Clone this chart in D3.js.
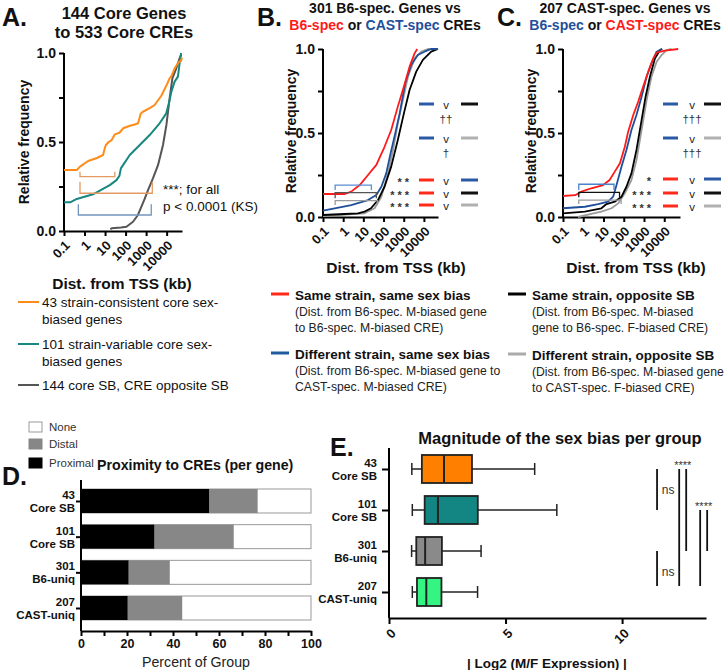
<!DOCTYPE html>
<html><head><meta charset="utf-8">
<script src="https://cdn.jsdelivr.net/npm/d3@7"></script>
<style>
body{margin:0;background:#fff}
text{font-family:"Liberation Sans",Arial,Helvetica,sans-serif}
</style>
</head><body>
<svg id="chart" width="727" height="670"></svg>
<script>
// ---------------- DATA ----------------
const xTicks = [0.1, 1, 10, 100, 1000, 10000];
const xTickLabels = ["0.1", "1", "10", "100", "1000", "10000"];
const yTicks = [0, 0.25, 0.5, 0.75, 1];
const yTickLabels = ["0.0", "", "0.5", "", "1.0"];

// Panel A cumulative distributions [distance kb, relative frequency]
const cdfA_consistent = [[0.1,0.343],[0.42,0.343],[0.6,0.362],[1.5,0.393],[4,0.41],[8,0.427],[10,0.47],[11,0.483],[15,0.5],[21,0.511],[30,0.543],[50,0.552],[76,0.577],[150,0.59],[300,0.6],[405,0.605],[550,0.66],[700,0.67],[1500,0.69],[2600,0.708],[5500,0.76],[10000,0.82],[14000,0.858],[17000,0.87],[24500,0.914],[30000,0.93],[40000,0.951],[50000,0.955],[56000,0.975]];
const cdfA_variable = [[0.1,0.161],[0.2,0.161],[0.42,0.18],[2.6,0.206],[17,0.258],[36,0.286],[50,0.31],[59,0.352],[160,0.427],[490,0.483],[1490,0.539],[4550,0.605],[9600,0.661],[13000,0.72],[17000,0.783],[24500,0.839],[35500,0.867],[46000,0.97],[51000,1.0]];
const cdfA_opposite = [[18,0.01],[21,0.015],[60,0.02],[110,0.024],[230,0.052],[400,0.09],[850,0.18],[1240,0.23],[2150,0.296],[3800,0.37],[6650,0.483],[9750,0.596],[14000,0.745],[19000,0.858],[29500,0.914],[42600,0.97],[51000,0.99]];

// Panel B
const cdfB_sameSame = [[0.1,0.137],[1.2,0.137],[2.5,0.151],[6.6,0.19],[17,0.25],[44,0.31],[112,0.418],[240,0.518],[510,0.657],[1020,0.776],[1950,0.895],[3460,0.974],[4650,1.0]];
const cdfB_diffSame = [[0.1,0.038],[0.38,0.052],[2.5,0.071],[17,0.101],[44,0.131],[78,0.18],[136,0.26],[223,0.379],[380,0.498],[630,0.617],[1180,0.796],[2340,0.905],[5000,0.964],[10700,0.984],[23000,1.0],[50000,1.0]];
const cdfB_sameOpp = [[0.1,0.012],[1.2,0.018],[5.4,0.022],[11.5,0.032],[24,0.052],[53,0.101],[112,0.18],[240,0.3],[510,0.458],[1020,0.617],[1950,0.756],[4170,0.865],[8900,0.935],[23000,0.984],[50000,1.0]];
const cdfB_diffOpp = [[0.1,0.006],[11.5,0.022],[36,0.052],[78,0.121],[166,0.26],[295,0.399],[510,0.558],[910,0.696],[1620,0.835],[3460,0.944],[7400,0.984],[15800,1.0],[50000,1.0]];

// Panel C
const cdfC_sameSame = [[0.1,0.125],[0.4,0.13],[0.81,0.151],[2.5,0.171],[9.6,0.19],[20,0.22],[36,0.27],[65,0.32],[113,0.418],[165,0.508],[295,0.607],[515,0.686],[910,0.776],[1620,0.865],[2880,0.944],[4200,0.978],[10800,0.99],[49000,1.0]];
const cdfC_diffSame = [[0.1,0.052],[1.2,0.061],[5.4,0.077],[17,0.091],[30,0.121],[44,0.19],[78,0.3],[136,0.399],[240,0.518],[425,0.607],[760,0.716],[1350,0.835],[2340,0.915],[4200,0.984],[7400,1.0]];
const cdfC_sameOpp = [[0.1,0.022],[1.2,0.032],[7.9,0.052],[14,0.077],[36,0.091],[78,0.121],[136,0.18],[240,0.26],[425,0.399],[760,0.577],[1200,0.716],[1960,0.835],[3460,0.944],[6200,0.994],[8000,1.0]];
const cdfC_diffOpp = [[0.55,0.0],[2.5,0.018],[7.9,0.032],[25,0.052],[53,0.081],[113,0.141],[240,0.22],[425,0.339],[760,0.518],[1350,0.696],[2340,0.835],[4200,0.924],[7400,0.964],[13000,0.994],[23000,1.0]];

// brackets [x0, x1, barLevel, stubLevel]
const bracketsA = [[0.6,30,0.305,0.333],[0.6,2000,0.212,0.277],[0.5,1780,0.09,0.15]];
const bracketsB = [[0.4,25,0.19,0.16],[0.4,44,0.145,0.111],[0.4,49,0.097,0.071]];
const bracketsC = [[0.6,33,0.195,0.16],[0.6,62,0.147,0.117],[0.6,74,0.101,0.077]];

// comparison keys
const comparisons = [["blue","black"],["blue","gray"],["red","blue"],["red","black"],["red","gray"]];
const daggersB = ["††","†"];
const daggersC = ["†††","†††"];
const starsB = ["**","***","***"];
const starsC = ["*","***","***"];

// Panel D
const groupsD = ["43|Core SB","101|Core SB","301|B6-uniq","207|CAST-uniq"];
const proximalPct = [55.7, 31.9, 20.7, 20.3];
const distalPct = [21.1, 34.5, 17.9, 23.7];
const categoriesD = ["None","Distal","Proximal"];
const pctTicks = [0,10,20,30,40,50,60,70,80,90,100];

// Panel E
const groupsE = ["43|Core SB","101|Core SB","301|B6-uniq","207|CAST-uniq"];
const boxMin = [0.98, 1.0, 0.97, 1.0];
const boxQ1 = [1.41, 1.53, 1.17, 1.2];
const boxMedian = [2.36, 2.1, 1.55, 1.6];
const boxQ3 = [3.56, 3.81, 2.27, 2.25];
const boxMax = [6.25, 7.2, 3.95, 3.8];
const magTicks = [0, 5, 10];
// [x value, from group, to group]
const sigLines = [[11.5,0,1],[11.5,2,3],[12.45,0,3],[12.75,0,2],[13.35,1,3],[13.65,1,2]];
const sigLabels = [["ns",11.7,0.5],["ns",11.7,2.5],["****",12.6,-0.18],["****",13.5,0.82]];

// ---------------- DRAW ----------------
const svg = d3.select("#chart");
const F = '"Liberation Sans",Arial,sans-serif';

function txt(g, x, y, s, o = {}) {
  const t = g.append("text").attr("x", x).attr("y", y).text(s)
    .attr("font-size", o.size || 12).attr("font-weight", o.bold ? "bold" : "normal")
    .attr("fill", o.fill || "#111").attr("text-anchor", o.anchor || "start")
    .attr("dominant-baseline", "central");
  if (o.rotate) t.attr("transform", `rotate(${o.rotate},${x},${y})`);
  if (o.ls) t.attr("letter-spacing", o.ls);
  return t;
}
function styleAxis(sel) {
  sel.select(".domain").attr("stroke", "#000").attr("stroke-width", 2);
  sel.selectAll(".tick line").attr("stroke", "#000").attr("stroke-width", 2);
  sel.selectAll(".tick text").attr("fill", "#111").attr("font-family", F).attr("font-weight", "bold");
}

function cdfAxes(x, y, fs) {
  const gx = svg.append("g").attr("transform", `translate(0,${y(0)})`)
    .call(d3.axisBottom(x).tickValues(xTicks).tickFormat((d, i) => xTickLabels[i]).tickSize(5).tickSizeOuter(0));
  styleAxis(gx);
  gx.selectAll(".tick text").attr("font-size", 13).attr("x", 0).attr("y", 0).attr("dy", "0.35em")
    .attr("text-anchor", "end").attr("transform", "translate(3,12) rotate(-45)");
  const gy = svg.append("g").attr("transform", `translate(${x.range()[0]},0)`)
    .call(d3.axisLeft(y).tickValues(yTicks).tickFormat((d, i) => yTickLabels[i]).tickSize(5).tickSizeOuter(0));
  styleAxis(gy);
  gy.selectAll(".tick text").attr("font-size", fs);
  gy.select(".domain").attr("d", `M0,${y(0)}V${y(1)}`);
}
function cdfLines(x, y, series, colors, widths) {
  const line = d3.line().x(d => x(d[0])).y(d => y(d[1]));
  series.forEach((s, i) => {
    svg.append("path").datum(s).attr("d", line).attr("fill", "none")
      .attr("stroke", colors[i]).attr("stroke-width", widths || 2).attr("stroke-linejoin", "round");
  });
}
function brackets(x, y, list, colors) {
  list.forEach((b, i) => {
    svg.append("path")
      .attr("d", `M${x(b[0])},${y(b[3])}V${y(b[2])}H${x(b[1])}V${y(b[3])}`)
      .attr("fill", "none").attr("stroke", colors[i]).attr("stroke-width", 1.3);
  });
}

// ===== Panel A =====
const xA = d3.scaleLog().domain([0.1, 56000]).range([64, 182]);
const yA = d3.scaleLinear().domain([0, 1]).range([231, 53]);
txt(svg, 2, 17, "A.", {size: 25, bold: true});
txt(svg, 124, 13, "144 Core Genes", {size: 16.5, bold: true, anchor: "middle"});
txt(svg, 124, 32, "to 533 Core CREs", {size: 16.5, bold: true, anchor: "middle"});
cdfAxes(xA, yA, 14);
cdfLines(xA, yA, [cdfA_opposite, cdfA_variable, cdfA_consistent], ["#555555", "#17877f", "#ff8c1a"], 2);
brackets(xA, yA, bracketsA, ["#e39a63", "#e39a63", "#7495ba"]);
txt(svg, 163, 189, "***; for all", {size: 13.5});
txt(svg, 163, 206, "p < 0.0001 (KS)", {size: 13.5});
txt(svg, 24, 142, "Relative frequency", {size: 14, bold: true, anchor: "middle", rotate: -90});
txt(svg, 122, 283, "Dist. from TSS (kb)", {size: 15.5, bold: true, anchor: "middle"});
// legend A
const legA = [["#ff8c1a", ["43 strain-consistent core sex-", "biased genes"], 302],
              ["#17877f", ["101 strain-variable core sex-", "biased genes"], 344],
              ["#555555", ["144 core SB, CRE opposite SB"], 385]];
legA.forEach(l => {
  svg.append("line").attr("x1", 18).attr("x2", 39).attr("y1", l[2]).attr("y2", l[2]).attr("stroke", l[0]).attr("stroke-width", 2);
  l[1].forEach((s, j) => txt(svg, 42, l[2] + j * 17.5, s, {size: 13.5}));
});

// ===== Panels B & C =====
const colorMap = {red: "#ff2a1a", blue: "#2a5aa6", black: "#111111", gray: "#b0b0b0"};
function panelBC(opt) {
  const x = d3.scaleLog().domain(opt.domain).range(opt.range);
  const y = d3.scaleLinear().domain([0, 1]).range([217, 49]);
  txt(svg, opt.range[0] - 66, 17, opt.letter, {size: 25, bold: true});
  const cx = opt.range[0] + 62;
  svg.append("text").attr("x", cx).attr("y", 8).attr("text-anchor", "middle")
    .attr("dominant-baseline", "central").attr("font-size", 14).attr("font-weight", "bold").attr("fill", "#111")
    .text(opt.title1);
  const t2 = svg.append("text").attr("x", cx).attr("y", 25).attr("text-anchor", "middle")
    .attr("dominant-baseline", "central").attr("font-size", 14).attr("font-weight", "bold");
  opt.title2.forEach(p => t2.append("tspan").attr("fill", p[1]).text(p[0]));
  cdfAxes(x, y, 14);
  cdfLines(x, y, opt.series, ["#9a9a9a", "#000000", "#1f4f9a", "#ff1a1a"], 1.8);
  brackets(x, y, opt.brackets, opt.bracketColors);
  txt(svg, opt.range[0] - 32, 131, "Relative frequency", {size: 14, bold: true, anchor: "middle", rotate: -90});
  txt(svg, opt.range[0] + 73, 267, "Dist. from TSS (kb)", {size: 15.5, bold: true, anchor: "middle"});
  // comparison key
  comparisons.forEach((c, i) => {
    const ry = opt.rows[i];
    svg.append("line").attr("x1", opt.keyX[0]).attr("x2", opt.keyX[0] + 15).attr("y1", ry).attr("y2", ry)
      .attr("stroke", colorMap[c[0]]).attr("stroke-width", 3);
    txt(svg, opt.keyX[1], ry + 1, "v", {size: 11.5, anchor: "middle", fill: "#222"});
    svg.append("line").attr("x1", opt.keyX[2]).attr("x2", opt.keyX[2] + 17).attr("y1", ry).attr("y2", ry)
      .attr("stroke", colorMap[c[1]]).attr("stroke-width", 3);
  });
  opt.daggers.forEach((d, i) => txt(svg, opt.keyX[1], opt.rows[i] + 15, d, {size: 11.5, anchor: "middle", fill: "#333"}));
  opt.stars.forEach((s, i) => txt(svg, opt.starX, opt.rows[i + 2] + 2, s, {size: 11, bold: true, anchor: "end", fill: "#333", ls: 3}));
}
panelBC({letter: "B.", domain: [0.1, 50000], range: [323, 438],
  title1: "301 B6-spec. Genes vs",
  title2: [["B6-spec", "#ff1a1a"], [" or ", "#111"], ["CAST-spec", "#1f4f9a"], [" CREs", "#111"]],
  series: [cdfB_diffOpp, cdfB_sameOpp, cdfB_diffSame, cdfB_sameSame],
  brackets: bracketsB, bracketColors: ["#5b8ed6", "#555555", "#9a9a9a"],
  rows: [104, 138, 180, 193, 205], keyX: [419, 446, 461], daggers: daggersB, stars: starsB, starX: 412});
panelBC({letter: "C.", domain: [0.1, 60000], range: [563, 680],
  title1: "207 CAST-spec. Genes vs",
  title2: [["B6-spec", "#1f4f9a"], [" or ", "#111"], ["CAST-spec", "#ff1a1a"], [" CREs", "#111"]],
  series: [cdfC_diffOpp, cdfC_sameOpp, cdfC_diffSame, cdfC_sameSame],
  brackets: bracketsC, bracketColors: ["#4a84cc", "#111111", "#9a9a9a"],
  rows: [104, 138, 179, 193, 206], keyX: [663, 692, 704], daggers: daggersC, stars: starsC, starX: 654});

// legend B/C
const legBC = [
  [271, 294, colorMap.red, "Same strain, same sex bias", ["(Dist. from B6-spec. M-biased gene", "to B6-spec. M-biased CRE)"]],
  [271, 353, "#1f5a9c", "Different strain, same sex bias", ["(Dist. from B6-spec. M-biased gene to", "CAST-spec. M-biased CRE)"]],
  [508, 294, "#000", "Same strain, opposite SB", ["(Dist. from B6-spec. M-biased", "gene to B6-spec. F-biased CRE)"]],
  [508, 354, "#aaa", "Different strain, opposite SB", ["(Dist. from B6-spec. M-biased gene", "to CAST-spec. F-biased CRE)"]]];
legBC.forEach(l => {
  svg.append("line").attr("x1", l[0]).attr("x2", l[0] + 18).attr("y1", l[1]).attr("y2", l[1]).attr("stroke", l[2]).attr("stroke-width", 3);
  txt(svg, l[0] + 24, l[1] + 1, l[3], {size: 13.5, bold: true});
  l[4].forEach((s, j) => txt(svg, l[0] + 24, l[1] + 18 + j * 15.5, s, {size: 12.2, fill: "#222"}));
});

// ===== Panel D =====
const xD = d3.scaleLinear().domain([0, 100]).range([81, 311]);
const yD = d3.scalePoint().domain(groupsD).range([501, 608]);
const barH = 24;
txt(svg, 2, 476, "D.", {size: 25, bold: true});
txt(svg, 97, 465, "Proximity to CREs (per gene)", {size: 14.2, bold: true});
const legDcolors = ["#ffffff", "#878787", "#000000"];
categoriesD.forEach((c, i) => {
  const ly = [427, 444, 463][i];
  svg.append("rect").attr("x", 29).attr("y", ly - 5).attr("width", 13).attr("height", 10)
    .attr("fill", legDcolors[i]).attr("stroke", i === 0 ? "#999" : legDcolors[i]).attr("stroke-width", 1);
  txt(svg, 49, ly, c, {size: 11.5, fill: "#333"});
});
groupsD.forEach((g, i) => {
  const yy = yD(g) - barH / 2;
  svg.append("rect").attr("x", xD(0)).attr("y", yy).attr("width", xD(100) - xD(0)).attr("height", barH)
    .attr("fill", "#fff").attr("stroke", "#999").attr("stroke-width", 1);
  svg.append("rect").attr("x", xD(proximalPct[i])).attr("y", yy).attr("width", xD(proximalPct[i] + distalPct[i]) - xD(proximalPct[i])).attr("height", barH)
    .attr("fill", "#878787");
  svg.append("rect").attr("x", xD(0)).attr("y", yy).attr("width", xD(proximalPct[i]) - xD(0)).attr("height", barH)
    .attr("fill", "#000");
});
const gxD = svg.append("g").attr("transform", "translate(0,631)")
  .call(d3.axisBottom(xD).tickValues(pctTicks).tickFormat(d => d % 20 === 0 ? d : "").tickSize(5).tickSizeOuter(0));
styleAxis(gxD);
gxD.selectAll(".tick text").attr("font-size", 12.5).attr("y", 8);
const gyD = svg.append("g").attr("transform", "translate(81,0)")
  .call(d3.axisLeft(yD).tickFormat("").tickSize(5).tickSizeOuter(0));
styleAxis(gyD);
gyD.select(".domain").attr("d", "M0,480V631");
groupsD.forEach(g => {
  const p = g.split("|");
  txt(svg, 75, yD(g) - 6, p[0], {size: 11.5, bold: true, anchor: "end"});
  txt(svg, 75, yD(g) + 7, p[1], {size: 11.5, bold: true, anchor: "end"});
});
txt(svg, 196, 662, "Percent of Group", {size: 14.2, anchor: "middle", fill: "#222"});

// ===== Panel E =====
const xE = d3.scaleLinear().domain([0, 13.6]).range([389, 706]);
const yE = d3.scalePoint().domain(groupsE).range([469, 592]);
const boxH = 28;
const boxColors = ["#ff8000", "#138582", "#8a8a8a", "#34f582"];
txt(svg, 330, 447, "E.", {size: 25, bold: true});
txt(svg, 560, 438, "Magnitude of the sex bias per group", {size: 16.5, bold: true, anchor: "middle"});
groupsE.forEach((g, i) => {
  const cy = yE(g);
  const st = "#222";
  svg.append("line").attr("x1", xE(boxMin[i])).attr("x2", xE(boxQ1[i])).attr("y1", cy).attr("y2", cy).attr("stroke", st).attr("stroke-width", 1.5);
  svg.append("line").attr("x1", xE(boxQ3[i])).attr("x2", xE(boxMax[i])).attr("y1", cy).attr("y2", cy).attr("stroke", st).attr("stroke-width", 1.5);
  [boxMin[i], boxMax[i]].forEach(v => svg.append("line").attr("x1", xE(v)).attr("x2", xE(v)).attr("y1", cy - 6).attr("y2", cy + 6).attr("stroke", st).attr("stroke-width", 1.5));
  svg.append("rect").attr("x", xE(boxQ1[i])).attr("y", cy - boxH / 2).attr("width", xE(boxQ3[i]) - xE(boxQ1[i])).attr("height", boxH)
    .attr("fill", boxColors[i]).attr("stroke", st).attr("stroke-width", 1.8);
  svg.append("line").attr("x1", xE(boxMedian[i])).attr("x2", xE(boxMedian[i])).attr("y1", cy - boxH / 2).attr("y2", cy + boxH / 2).attr("stroke", st).attr("stroke-width", 2);
});
const gxE = svg.append("g").attr("transform", "translate(0,618)")
  .call(d3.axisBottom(xE).tickValues(magTicks).tickSize(6).tickSizeOuter(0));
styleAxis(gxE);
gxE.selectAll(".tick text").attr("font-size", 13).attr("x", 0).attr("y", 0).attr("dy", "0.35em")
  .attr("text-anchor", "end").attr("transform", "translate(4,13) rotate(-45)");
const gyE = svg.append("g").attr("transform", "translate(389,0)")
  .call(d3.axisLeft(yE).tickFormat("").tickSize(7).tickSizeOuter(0));
styleAxis(gyE);
gyE.select(".domain").attr("d", "M0,448V618");
groupsE.forEach(g => {
  const p = g.split("|");
  txt(svg, 377, yE(g) - 6.5, p[0], {size: 11.5, bold: true, anchor: "end"});
  txt(svg, 377, yE(g) + 6.5, p[1], {size: 11.5, bold: true, anchor: "end"});
});
const yEidx = i => yE(groupsE[i]) - (i === 3 ? 6 : 0);
sigLines.forEach(s => {
  svg.append("line").attr("x1", xE(s[0])).attr("x2", xE(s[0])).attr("y1", yEidx(s[1])).attr("y2", yEidx(s[2]))
    .attr("stroke", "#111").attr("stroke-width", 1.8);
});
sigLabels.forEach(l => {
  const yy = yE(groupsE[0]) + l[2] * (yE(groupsE[1]) - yE(groupsE[0]));
  txt(svg, xE(l[1]), yy + (l[0] === "ns" ? 0 : 3), l[0], {size: l[0] === "ns" ? 12 : 11, anchor: l[0] === "ns" ? "start" : "middle", fill: "#333"});
});
txt(svg, 547, 663, "| Log2 (M/F Expression) |", {size: 13.5, bold: true, anchor: "middle"});
</script>
</body></html>
